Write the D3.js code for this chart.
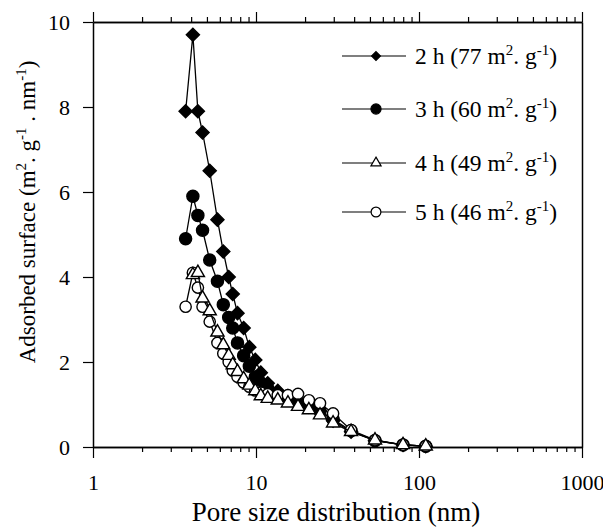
<!DOCTYPE html>
<html lang="en">
<head>
    <meta charset="UTF-8">
    <script src="https://d3js.org/d3.v7.min.js"></script>
    <title>Pore size distribution</title>
    <style>
      body { margin: 0; background: #fff; }
      #container { width: 603px; height: 531px; }
    </style>
</head>
<body>
    <div id="container"></div>
</body>
<script>
    // pore sizes (nm), same grid for every sample
    var poreSize = [3.7, 4.1, 4.4, 4.7, 5.2, 5.8, 6.3, 6.8, 7.2, 7.7, 8.4, 9.1, 9.9, 10.7, 11.8, 13.6, 15.7, 18.1, 21.1, 24.7, 29.7, 38.3, 53.7, 79.8, 110];

    // adsorbed surface (m2.g-1.nm-1)
    var h2 = [7.9, 9.7, 7.9, 7.4, 6.5, 5.35, 4.6, 4.0, 3.6, 3.15, 2.8, 2.35, 2.05, 1.75, 1.5, 1.32, 1.2, 1.05, 0.95, 0.85, 0.62, 0.36, 0.15, 0.05, 0.02];
    var h3 = [4.9, 5.9, 5.45, 5.1, 4.4, 3.9, 3.35, 3.05, 2.8, 2.45, 2.15, 1.9, 1.65, 1.5, 1.38, 1.25, 1.15, 1.05, 0.95, 0.85, 0.65, 0.38, 0.15, 0.05, 0.02];
    var h4 = [null, 4.05, 4.1, 3.5, 3.2, 2.7, 2.4, 2.15, 1.93, 1.77, 1.6, 1.45, 1.32, 1.2, 1.14, 1.1, 1.03, 0.95, 0.87, 0.75, 0.56, 0.36, 0.16, 0.05, 0.02];
    var h5 = [3.3, 4.1, 3.75, 3.3, 2.95, 2.45, 2.2, 2.0, 1.8, 1.65, 1.52, 1.42, 1.33, 1.28, 1.24, 1.22, 1.22, 1.25, 1.1, 1.03, 0.79, 0.4, 0.16, 0.05, 0.02];

    var seriesNames = ["2 h", "3 h", "4 h", "5 h"];
    var surfaces = ["77", "60", "49", "46"];
    var xTicks = [1, 10, 100, 1000];
    var yTicks = [0, 2, 4, 6, 8, 10];

    var width = 603,
        height = 531;
    var serif = "Liberation Serif";

    var svg = d3.select('#container')
                .append("svg")
                .attr("width", width)
                .attr("height", height);

    var x = d3.scaleLog().domain([1, 1000]).range([93, 582]);
    var y = d3.scaleLinear().domain([0, 10]).range([447, 22]);

    // minor ticks 2..9 in each decade
    var minor = [];
    [1, 10, 100].forEach(function(d){
        for (var k = 2; k <= 9; k++) minor.push(d * k);
    });

    // bottom axis
    svg.append("g")
        .attr("transform", "translate(0,447)")
        .call(d3.axisBottom(x).tickValues(minor).tickSize(5).tickSizeOuter(0).tickFormat(""));
    svg.append("g")
        .attr("transform", "translate(0,447)")
        .call(d3.axisBottom(x).tickValues(xTicks).tickSize(11).tickSizeOuter(0).tickPadding(16).tickFormat(d3.format("d")));

    // top axis
    svg.append("g")
        .attr("transform", "translate(0,22)")
        .call(d3.axisTop(x).tickValues(minor).tickSize(5).tickSizeOuter(0).tickFormat(""));
    svg.append("g")
        .attr("transform", "translate(0,22)")
        .call(d3.axisTop(x).tickValues(xTicks).tickSize(10).tickSizeOuter(0).tickFormat(""));

    // left and right axis
    svg.append("g")
        .attr("transform", "translate(93,0)")
        .call(d3.axisLeft(y).tickValues(yTicks).tickSize(10).tickSizeOuter(0).tickPadding(13));
    svg.append("g")
        .attr("transform", "translate(582,0)")
        .call(d3.axisRight(y).tickValues(yTicks).tickSize(0).tickSizeOuter(0).tickFormat(""));

    svg.selectAll(".domain").attr("stroke", "#000").attr("stroke-width", 1.5);
    svg.selectAll(".tick line").attr("stroke", "#000").attr("stroke-width", 1.2);
    svg.selectAll(".tick text").style("font-size", "22px").attr("fill", "#000");

    // axis titles
    svg.append("text")
        .attr("x", 336).attr("y", 521)
        .attr("text-anchor", "middle")
        .style("font-size", "27px")
        .text("Pore size distribution (nm)");

    var yt = svg.append("text")
        .attr("transform", "translate(35,212) rotate(-90)")
        .attr("text-anchor", "middle")
        .style("font-size", "23px");
    yt.append("tspan").text("Adsorbed surface (m");
    yt.append("tspan").attr("dy", -9).style("font-size", "15px").text("2");
    yt.append("tspan").attr("dy", 9).text(". g");
    yt.append("tspan").attr("dy", -9).style("font-size", "15px").text("-1");
    yt.append("tspan").attr("dy", 9).text(" . nm");
    yt.append("tspan").attr("dy", -9).style("font-size", "15px").text("-1");
    yt.append("tspan").attr("dy", 9).text(")");

    // series
    var data = [h2, h3, h4, h5];
    var markers = [
        {type: d3.symbolDiamond2, size: 110, fill: "#000"},
        {type: d3.symbolCircle, size: 115, fill: "#000"},
        {type: d3.symbolTriangle, size: 75, fill: "#fff"},
        {type: d3.symbolCircle, size: 100, fill: "#fff"}
    ];
    var legendMarkers = [
        {type: d3.symbolDiamond2, size: 50},
        {type: d3.symbolCircle, size: 80},
        {type: d3.symbolTriangle, size: 45},
        {type: d3.symbolCircle, size: 75}
    ];

    var line = d3.line()
        .x(function(d){ return x(d.p); })
        .y(function(d){ return y(d.v); });

    // draw order: 2h, 3h, 5h, 4h
    [0, 1, 3, 2].forEach(function(i){
        var pts = poreSize.map(function(p, j){ return {p: p, v: data[i][j]}; })
                          .filter(function(d){ return d.v != null; });
        var g = svg.append("g");
        g.append("path")
            .datum(pts)
            .attr("d", line)
            .attr("fill", "none")
            .attr("stroke", "#000")
            .attr("stroke-width", 1.3);
        g.selectAll("path.m")
            .data(pts)
            .enter()
            .append("path")
            .attr("class", "m")
            .attr("d", d3.symbol().type(markers[i].type).size(markers[i].size))
            .attr("transform", function(d){ return "translate(" + x(d.p) + "," + y(d.v) + ")"; })
            .attr("fill", markers[i].fill)
            .attr("stroke", "#000")
            .attr("stroke-width", 1.4);
    });

    // legend
    var rows = [56, 109, 163, 212];
    seriesNames.forEach(function(name, i){
        var lg = svg.append("g").attr("transform", "translate(0," + rows[i] + ")");
        lg.append("line").attr("x1", 342).attr("x2", 406).attr("y1", 0).attr("y2", 0)
            .attr("stroke", "#000").attr("stroke-width", 1.2);
        lg.append("path")
            .attr("d", d3.symbol().type(legendMarkers[i].type).size(legendMarkers[i].size))
            .attr("transform", "translate(376,0)")
            .attr("fill", markers[i].fill)
            .attr("stroke", "#000")
            .attr("stroke-width", 1.2);
        var t = lg.append("text").attr("x", 415).attr("y", 8).style("font-size", "23.5px");
        t.append("tspan").text(name + " (" + surfaces[i] + " m");
        t.append("tspan").attr("dy", -9).style("font-size", "15px").text("2");
        t.append("tspan").attr("dy", 9).text(". g");
        t.append("tspan").attr("dy", -9).style("font-size", "15px").text("-1");
        t.append("tspan").attr("dy", 9).text(")");
    });

    // every text in the serif face, as inline style
    svg.selectAll("text").style("font-family", serif);
</script>
</html>
